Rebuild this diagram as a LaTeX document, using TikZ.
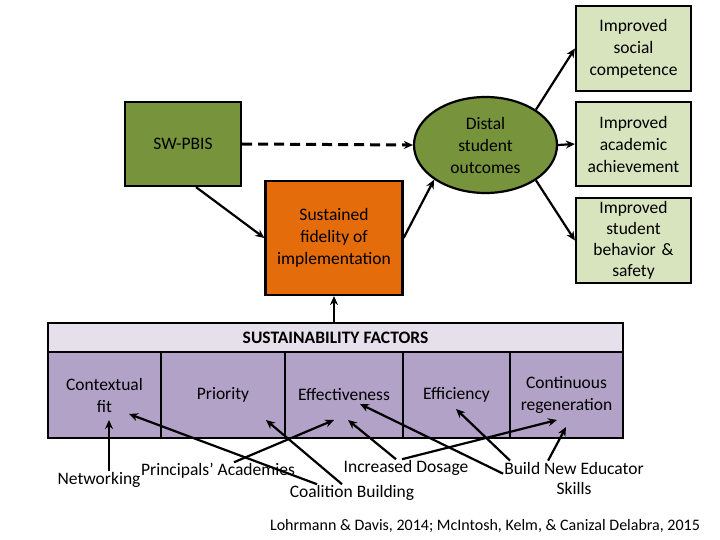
\documentclass[tikz,border=0pt]{standalone}
\usepackage{fontspec}
\setmainfont{Carlito}
\usepackage{tikz}
\usetikzlibrary{arrows.meta,shapes.geometric}

\definecolor{pbisgreen}{HTML}{77933C}
\definecolor{fidorange}{HTML}{E46C0A}
\definecolor{outgreen}{HTML}{D7E4BD}
\definecolor{headlav}{HTML}{E6E0EC}
\definecolor{celllav}{HTML}{B3A2C7}

\tikzset{
    blk/.style={draw=black, line width=2.2pt},
    outbox/.style={blk, fill=outgreen, minimum width=115pt, minimum height=85pt, text width=108pt, align=center, inner ysep=0pt},
    cell/.style={blk, fill=celllav, minimum height=86pt, align=center},
    lbl/.style={inner sep=1pt, align=center},
    arr/.style={-{Stealth[length=9pt,width=8pt]}, line width=2.2pt},
}

\begin{document}
\begin{tikzpicture}[x=1pt, y=-1pt, font=\fontsize{17.5}{22}\selectfont]
    \useasboundingbox (0,0) rectangle (720,540);

    % 1. Outcome boxes and the distal ellipse
    \node[outbox] (social) at (633.5,48.5) {Improved\\social\\competence};
    \node[outbox, minimum height=84pt] (academic) at (633.5,144) {Improved\\academic\\achievement};
    \node[outbox, font=\fontsize{17.5}{21}\selectfont] (behavior) at (633.5,240.5) {Improved\\student\\behavior \&\\safety};
    \node[blk, ellipse, fill=pbisgreen, minimum width=143pt, minimum height=96pt, inner sep=0pt, align=center] (distal) at (485.5,145) {Distal\\student\\outcomes};

    % 2. SW-PBIS and fidelity
    \node[blk, fill=pbisgreen, minimum width=116pt, minimum height=84pt] (swpbis) at (183,144) {SW-PBIS};
    \node[blk, fill=fidorange, minimum width=137pt, minimum height=114pt, align=center] (sustain) at (334,238) {Sustained\\fidelity of\\implementation};

    % 3. Sustainability factors table
    \node[blk, fill=headlav, minimum width=575pt, minimum height=29pt, inner ysep=0pt, font=\fontsize{17.5}{20}\selectfont\bfseries] (header) at (335.5,337.5) {SUSTAINABILITY FACTORS};
    \node[cell, minimum width=113pt] (fit) at (104.5,395) {Contextual\\fit};
    \node[cell, minimum width=124pt] (prio) at (223,395) {Priority};
    \node[cell, minimum width=118pt] (eff) at (344,395) {Effectiveness};
    \node[cell, minimum width=107pt] (effi) at (456.5,395) {Efficiency};
    \node[cell, minimum width=113pt] (regen) at (566.5,395) {Continuous\\regeneration};

    % 4. Strategy labels
    \node[lbl] (net) at (99,480) {Networking};
    \node[lbl] (prin) at (218,471) {Principals’ Academies};
    \node[lbl] (coal) at (352,493) {Coalition Building};
    \node[lbl] (dose) at (406,468) {Increased Dosage};
    \node[lbl, font=\fontsize{17.5}{20}\selectfont] (build) at (574,478) {Build New Educator\\Skills};
    \node[lbl, font=\fontsize{16}{18}\selectfont] (cite) at (485,526) {Lohrmann \& Davis, 2014; McIntosh, Kelm, \& Canizal Delabra, 2015};

    % 5. Arrow tips inside the cells
    \coordinate (fitA) at (109,420);
    \coordinate (fitB) at (129,414);
    \coordinate (prioT) at (266,420);
    \coordinate (effA) at (334,420);
    \coordinate (effB) at (348,420);
    \coordinate (effC) at (360,404);
    \coordinate (effiT) at (456,409);
    \coordinate (regA) at (557,420);
    \coordinate (regB) at (566,427);

    % 6. Upper connectors
    \draw[arr, line width=3pt, dash pattern=on 10pt off 6pt] (swpbis.east) -- (distal.west);
    \draw[arr] ([xshift=13pt]swpbis.south) -- (sustain.west);
    \draw[arr] (sustain.east) -- (distal.214);
    \draw[arr] (distal.35) -- (social.west);
    \draw[arr] (distal.east) -- (academic.west);
    \draw[arr] (distal.-35) -- (behavior.west);
    \draw[arr] (sustain.south |- header.north) -- (sustain.south);

    % 7. Strategies to factors
    \draw[arr] ([xshift=10pt]net.north) -- (fitA);
    \draw[arr] ([xshift=-35pt]coal.north) -- (fitB);
    \draw[arr] ([xshift=-10pt]coal.north) -- (prioT);
    \draw[arr] ([xshift=16pt]prin.north) -- (effA);
    \draw[arr] ([xshift=-10pt]dose.north) -- (effB);
    \draw[arr] ([xshift=-4pt]dose.north) -- (regA);
    \draw[arr] ([yshift=-13pt]build.north west) -- (effC);
    \draw[arr] ([xshift=7pt]build.north west) -- (effiT);
    \draw[arr] ([xshift=45pt]build.north west) -- (regB);
\end{tikzpicture}
\end{document}
